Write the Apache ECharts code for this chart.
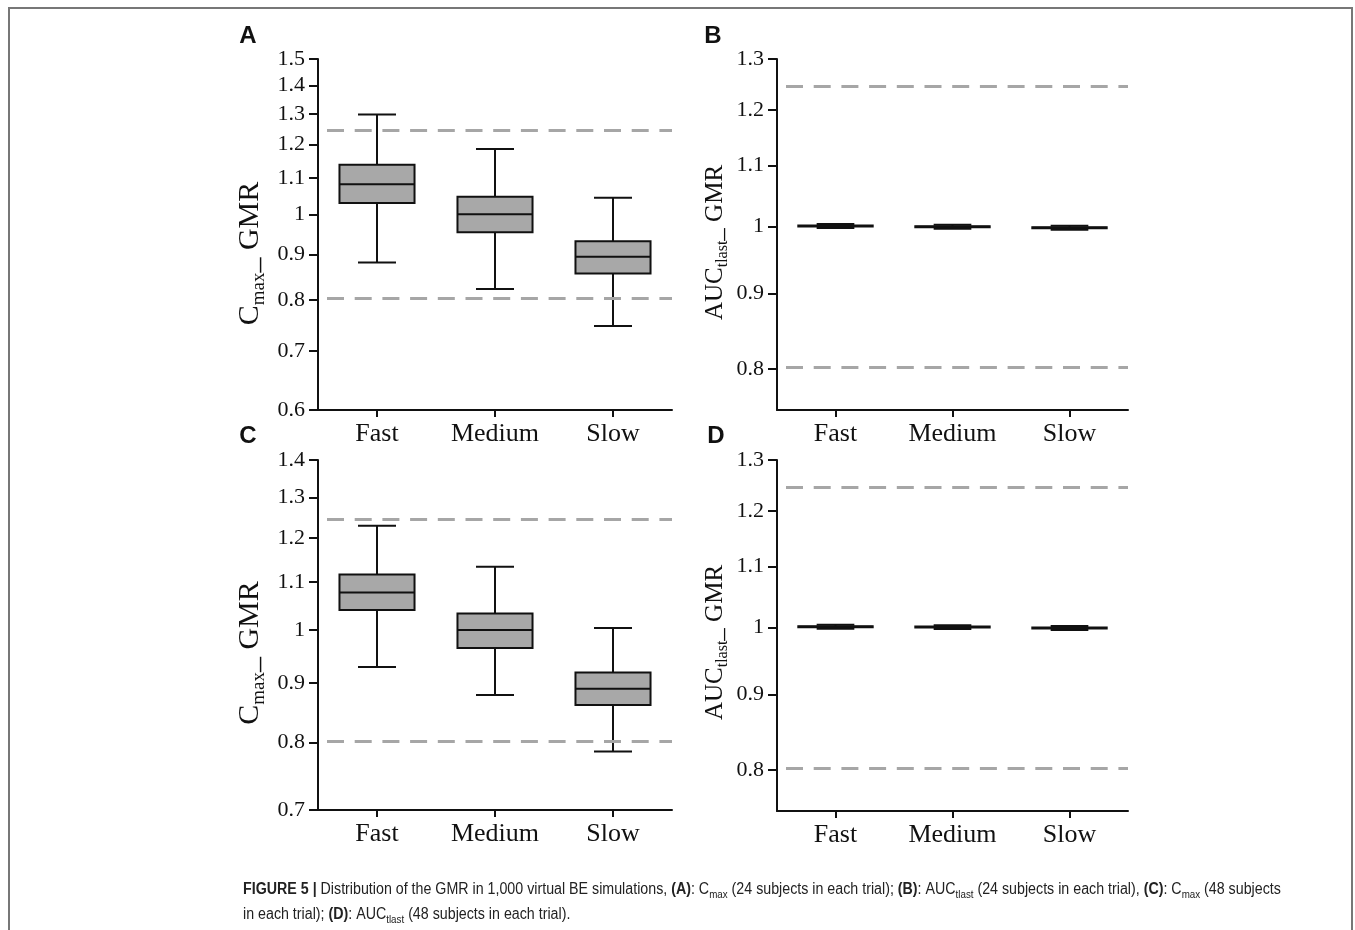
<!DOCTYPE html>
<html><head><meta charset="utf-8">
<script src="https://cdn.jsdelivr.net/npm/echarts@6/dist/echarts.min.js"></script>
<style>html,body{margin:0;padding:0;background:#fff}#c{width:1355px;height:930px}</style>
</head><body><div id="c"></div>
<script>
// ---------- data ----------
const categories = ['Fast', 'Medium', 'Slow'];
// each box: [lower whisker, Q1, median, Q3, upper whisker]
const boxA = [[0.882, 1.030, 1.082, 1.138, 1.298], [0.823, 0.954, 1.000, 1.047, 1.186], [0.747, 0.857, 0.895, 0.932, 1.044]];
const boxB = [[0.9975, 0.9998, 1.0006, 1.0014, 1.0037], [0.9964, 0.9987, 0.9995, 1.0003, 1.0026], [0.9949, 0.9972, 0.998, 0.9988, 1.0011]];
const boxC = [[0.929, 1.040, 1.077, 1.116, 1.229], [0.879, 0.965, 1.000, 1.033, 1.133], [0.786, 0.862, 0.890, 0.919, 1.004]];
const boxD = [[0.9979, 1.0002, 1.001, 1.0018, 1.0041], [0.9974, 0.9997, 1.0005, 1.0013, 1.0036], [0.9959, 0.9982, 0.999, 0.9998, 1.0021]];
const ticksA = [0.6, 0.7, 0.8, 0.9, 1, 1.1, 1.2, 1.3, 1.4, 1.5];
const ticksB = [0.8, 0.9, 1, 1.1, 1.2, 1.3];
const ticksC = [0.7, 0.8, 0.9, 1, 1.1, 1.2, 1.3, 1.4];
const ticksD = [0.8, 0.9, 1, 1.1, 1.2, 1.3];
const rangeA = [0.6, 1.5];
const rangeB = [0.75, 1.3];
const rangeC = [0.7, 1.4];
const rangeD = [0.75, 1.3];
const limits = [0.8, 1.25];
const nameCmax = '{m|C}{s|max}{m|_ GMR}';
const nameAuc = '{m|AUC}{s|tlast}{m|_ GMR}';
const panelLetters = ['A', 'B', 'C', 'D'];
const captionLine1 = '{b|FIGURE 5 |} Distribution of the GMR in 1,000 virtual BE simulations, {b|(A)}: C{s|max} (24 subjects in each trial); {b|(B)}: AUC{s|tlast} (24 subjects in each trial), {b|(C)}: C{s|max} (48 subjects';
const captionLine2 = 'in each trial); {b|(D)}: AUC{s|tlast} (48 subjects in each trial).';

// ---------- chart ----------
const L = Math.log;
const serif = 'Liberation Serif, Times New Roman, serif';
const sans = 'Liberation Sans, Arial, Helvetica, sans-serif';
const grids = [
  {left: 318, top: 59, width: 354, height: 351},
  {left: 777, top: 59, width: 351, height: 351},
  {left: 318, top: 460, width: 354, height: 350},
  {left: 777, top: 460, width: 351, height: 351}
];
const boxes = [boxA, boxB, boxC, boxD];
const ticks = [ticksA, ticksB, ticksC, ticksD];
const ranges = [rangeA, rangeB, rangeC, rangeD];
const names = [nameCmax, nameAuc, nameCmax, nameAuc];
const namePad = [[0, 38, 0, 0], [0, 16, 0, 0], [0, 36, 0, 0], [0, 14, 0, 0]];
const nameSize = [[30, 19], [25, 16], [30, 19], [25, 16]];
const nameGaps = [49, 46, 49, 46];

function fmt(v) {
  const x = Math.round(Math.exp(v) * 100) / 100;
  return String(x);
}

function renderBox(params, api) {
  const x = api.value(0);
  const band = api.size([1, 0])[0];
  const lo = api.coord([x, api.value(1)]);
  const q1 = api.coord([x, api.value(2)]);
  const md = api.coord([x, api.value(3)]);
  const q3 = api.coord([x, api.value(4)]);
  const hi = api.coord([x, api.value(5)]);
  const cx = md[0];
  const bw = band * 0.636, cw = band * 0.322;
  const st = {stroke: '#111', lineWidth: 2, fill: null};
  return {
    type: 'group',
    children: [
      {type: 'line', shape: {x1: cx, y1: hi[1], x2: cx, y2: q3[1]}, style: st},
      {type: 'line', shape: {x1: cx, y1: q1[1], x2: cx, y2: lo[1]}, style: st},
      {type: 'line', shape: {x1: cx - cw / 2, y1: hi[1], x2: cx + cw / 2, y2: hi[1]}, style: st},
      {type: 'line', shape: {x1: cx - cw / 2, y1: lo[1], x2: cx + cw / 2, y2: lo[1]}, style: st},
      {type: 'rect', shape: {x: cx - bw / 2, y: q3[1], width: bw, height: q1[1] - q3[1]}, style: {fill: '#a8a8a8', stroke: '#111', lineWidth: 2}},
      {type: 'line', shape: {x1: cx - bw / 2, y1: md[1], x2: cx + bw / 2, y2: md[1]}, style: st}
    ]
  };
}

const xAxis = [], yAxis = [], series = [];
for (let i = 0; i < 4; i++) {
  xAxis.push({
    type: 'category', gridIndex: i, data: categories, boundaryGap: true,
    axisLine: {show: true, onZero: false, lineStyle: {color: '#111', width: 2}},
    axisTick: {show: true, alignWithLabel: true, length: 7, lineStyle: {color: '#111', width: 2}},
    axisLabel: {fontFamily: serif, fontSize: 26, color: '#111', margin: 11},
    splitLine: {show: false}
  });
  const tv = ticks[i].map(L);
  const ns = nameSize[i];
  yAxis.push({
    type: 'value', gridIndex: i, min: L(ranges[i][0]), max: L(ranges[i][1]),
    name: names[i], nameLocation: 'middle', nameGap: nameGaps[i], nameRotate: 90,
    nameTextStyle: {
      padding: namePad[i],
      rich: {
        m: {fontFamily: serif, fontSize: ns[0], color: '#111', lineHeight: ns[0] + 7},
        s: {fontFamily: serif, fontSize: ns[1], color: '#111', lineHeight: ns[1], verticalAlign: 'bottom'}
      }
    },
    axisLine: {show: true, lineStyle: {color: '#111', width: 2}},
    axisTick: {show: true, length: 9, customValues: tv, lineStyle: {color: '#111', width: 2}},
    axisLabel: {customValues: tv, formatter: fmt, fontFamily: serif, fontSize: 22, color: '#111', margin: 13},
    splitLine: {show: false}
  });
  series.push({
    type: 'custom', xAxisIndex: i, yAxisIndex: i,
    renderItem: renderBox,
    encode: {x: 0, y: [1, 2, 3, 4, 5]},
    data: boxes[i].map((b, k) => [k].concat(b.map(L))),
    silent: true,
    z: 3,
    markLine: {
      silent: true, symbol: 'none', label: {show: false},
      lineStyle: {color: '#a6a6a6', width: 3, type: [17, 10.7], dashOffset: 18.7},
      emphasis: {disabled: true},
      data: limits.map(v => ({yAxis: L(v)}))
    }
  });
}

const graphic = [
  {type: 'rect', shape: {x: 9, y: 8, width: 1343, height: 940}, style: {fill: null, stroke: '#777', lineWidth: 2}, z: -1}
];
const letterPos = [[248, 36], [713, 36], [248, 436], [716, 436]];
panelLetters.forEach((t, i) => graphic.push({
  type: 'text', x: letterPos[i][0], y: letterPos[i][1],
  style: {text: t, align: 'center', verticalAlign: 'middle', fontFamily: sans, fontWeight: 'bold', fontSize: 24, fill: '#111'}
}));
const capFont = sans;
const capRich = {
  b: {fontFamily: capFont, fontWeight: 'bold', fontSize: 16, fill: '#222', lineHeight: 20},
  s: {fontFamily: capFont, fontSize: 11, fill: '#222', lineHeight: 10, verticalAlign: 'bottom'}
};
graphic.push({type: 'text', x: 243, y: 890, scaleX: 0.89, style: {text: captionLine1, verticalAlign: 'middle', fontFamily: capFont, fontSize: 16, fill: '#222', lineHeight: 20, rich: capRich}});
graphic.push({type: 'text', x: 243, y: 915, scaleX: 0.89, style: {text: captionLine2, verticalAlign: 'middle', fontFamily: capFont, fontSize: 16, fill: '#222', lineHeight: 20, rich: capRich}});

const chart = echarts.init(document.getElementById('c'));
chart.setOption({
  animation: false,
  backgroundColor: '#fff',
  grid: grids,
  xAxis: xAxis,
  yAxis: yAxis,
  series: series,
  graphic: graphic
});
</script></body></html>
